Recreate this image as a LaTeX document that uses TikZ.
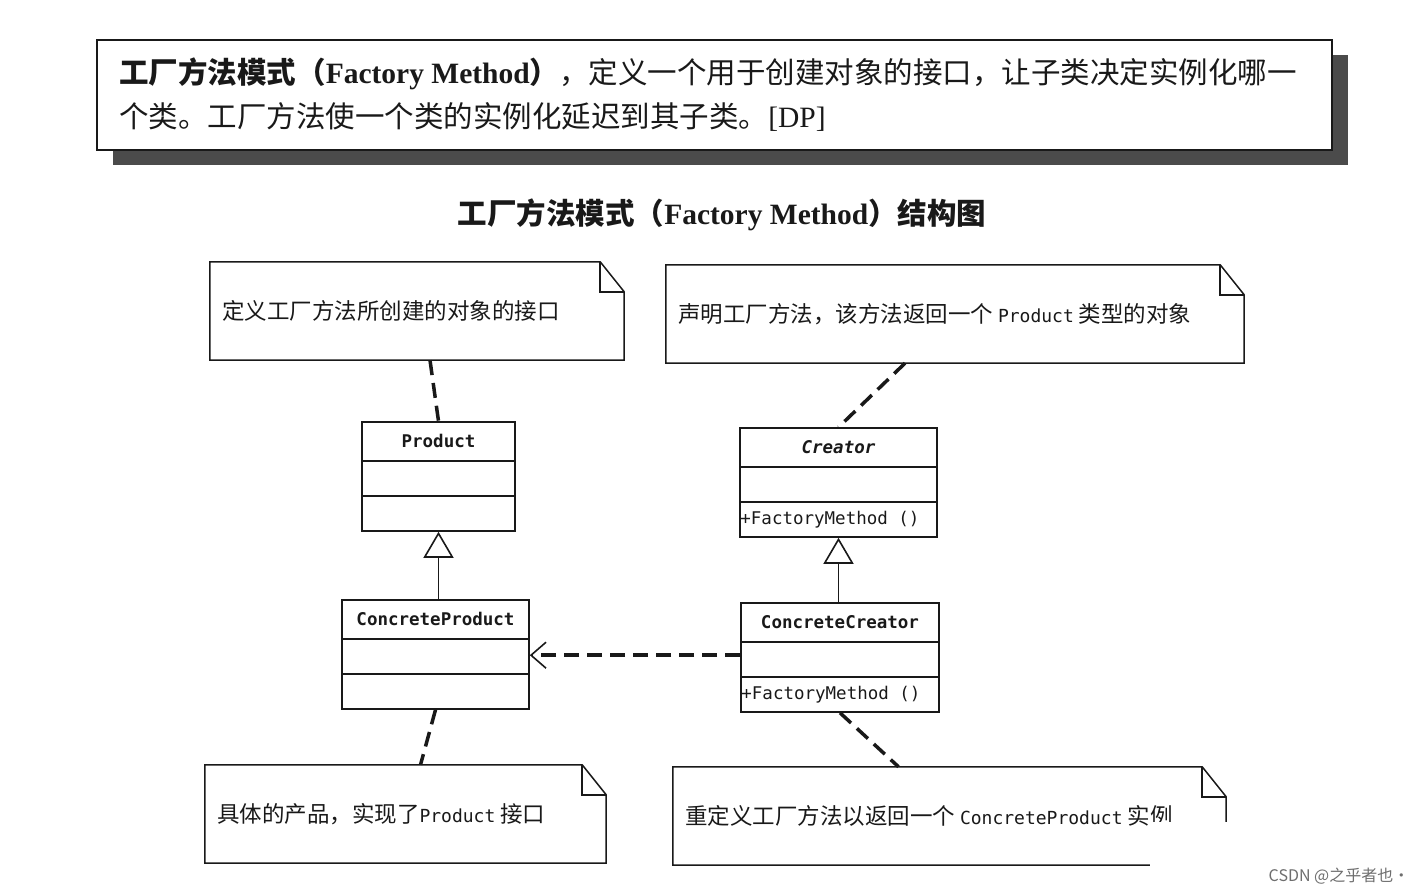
\documentclass[tikz,border=0pt]{standalone}
\usepackage{fontspec}
\setmainfont{Liberation Serif}
\newfontfamily\cjk{Noto Sans CJK SC}
\newfontfamily\umlmono{DejaVu Sans Mono}
\usetikzlibrary{arrows.meta,calc,shadows}
\definecolor{ink}{RGB}{25,25,25}
\definecolor{shade}{RGB}{75,75,75}
\definecolor{wmgray}{RGB}{110,110,110}
\newcommand{\notelatin}[1]{{\umlmono\fontsize{18}{20}\selectfont #1}}
\newcommand{\umlclass}[6]{% name x y width title method
  \node[classbox,minimum width=#4] (#1) at (#2,#3) {};
  \node[classname] (#1-name) at ($(#1.north)+(0,20)$) {#5};
  \draw[classline] ($(#1.north west)+(0,40)$) -- ($(#1.north east)+(0,40)$);
  \draw[classline] ($(#1.north west)+(0,75)$) -- ($(#1.north east)+(0,75)$);
  \node[methodtext] (#1-op) at ($(#1.north west)+(1,92)$) {#6};
}
\newcommand{\foldnote}[5]{% name x y width text
  \node[notebox,minimum width=#4] (#1) at (#2,#3) {};
  \draw[noteline] (#1.south west) -- (#1.north west) -- ($(#1.north east)+(-24,0)$)
    -- ($(#1.north east)+(0,30)$) -- (#1.south east) -- cycle;
  \draw[noteline] ($(#1.north east)+(-24,0)$) |- ($(#1.north east)+(0,30)$);
  \node[notetext] (#1-text) at ($(#1.west)+(12,0)$) {#5};
}

\begin{document}
\begin{tikzpicture}[x=1pt,y=-1pt,
  defbox/.style={draw=ink,line width=1.8pt,fill=white,minimum width=1235pt,minimum height=110pt,inner sep=0pt,
    drop shadow={shadow xshift=16pt,shadow yshift=-15pt,fill=shade,opacity=1}},
  deftext/.style={anchor=west,align=left,inner sep=0pt,text=ink,font=\fontsize{29.5}{44}\selectfont},
  heading/.style={text=ink,inner sep=0pt,font=\fontsize{29.5}{34}\selectfont},
  classbox/.style={draw=ink,line width=1.6pt,minimum height=109pt,inner sep=0pt},
  classline/.style={draw=ink,line width=1.6pt},
  classname/.style={text=ink,inner sep=0pt,font=\umlmono\bfseries\fontsize{17.5}{20}\selectfont},
  methodtext/.style={anchor=west,text=ink,inner sep=0pt,font=\umlmono\fontsize{17.5}{20}\selectfont},
  notebox/.style={minimum height=98pt,inner sep=0pt},
  noteline/.style={draw=ink,line width=1.5pt,line join=miter},
  notetext/.style={anchor=west,text=ink,inner sep=0pt,font=\cjk\fontsize{22.5}{26}\selectfont},
  notelink/.style={draw=ink,line width=3.5pt,dash pattern=on 15pt off 8pt},
  inherit/.style={draw=ink,line width=1.6pt,-{Triangle[open,length=26pt,width=30pt]}},
  depend/.style={draw=ink,line width=3.5pt,dash pattern=on 15pt off 8pt,
    -{Straight Barb[length=15pt,width=26pt,line width=1.6pt]}}]
  \useasboundingbox (0,0) rectangle (1424,894);

  % definition
  \node[defbox] (defn) at (714.5,95) {};
  \node[deftext] (defntext) at ($(defn.west)+(23,0)$)
    {{\cjk\bfseries 工厂方法模式（}{\bfseries Factory Method}{\cjk\bfseries ）}{\cjk ，定义一个用于创建对象的接口，让子类决定实例化哪一}\\
     {\cjk 个类。工厂方法使一个类的实例化延迟到其子类。}[DP]};
  \node[heading] (title) at (722,215)
    {{\cjk\bfseries 工厂方法模式（}{\bfseries Factory Method}{\cjk\bfseries ）结构图}};

  % classes
  \umlclass{product}{438.5}{476.5}{153pt}{Product}{}
  \umlclass{creator}{838.5}{482.5}{197pt}{\itshape Creator}{+FactoryMethod ()}
  \umlclass{cproduct}{435.5}{654.5}{187pt}{ConcreteProduct}{}
  \umlclass{ccreator}{840}{657.5}{198pt}{ConcreteCreator}{+FactoryMethod ()}

  % notes
  \foldnote{defnote}{417}{311}{414pt}{定义工厂方法所创建的对象的接口}
  \foldnote{declnote}{955}{314}{578pt}{声明工厂方法，该方法返回一个 \notelatin{Product} 类型的对象}
  \foldnote{implnote}{405.5}{814}{401pt}{具体的产品，实现了\notelatin{Product} 接口}
  \foldnote{overnote}{949.5}{816}{553pt}{重定义工厂方法以返回一个 \notelatin{ConcreteProduct} 实例}

  % links
  \draw[notelink] ($(defnote.south)+(13,0)$) -- (product.north);
  \draw[notelink] ($(declnote.south)+(-50,0)$) -- (creator.north);
  \draw[notelink] (cproduct.south) -- ($(implnote.north)+(15,0)$);
  \draw[notelink] (ccreator.south) -- ($(overnote.north)+(-51,0)$);
  \draw[inherit] (product.south |- cproduct.north) -- (product.south);
  \draw[inherit] (creator.south |- ccreator.north) -- (creator.south);
  \draw[depend] ($(ccreator.north west)+(0,53)$) -- ($(cproduct.north east)+(0,56)$);

  % watermark
  \fill[white] (1150,822) rectangle (1424,894);
  \node[text=wmgray,inner sep=0pt,font=\cjk\fontsize{16}{18}\selectfont] (wm) at (1339,876) {CSDN @之乎者也·};
\end{tikzpicture}
\end{document}
